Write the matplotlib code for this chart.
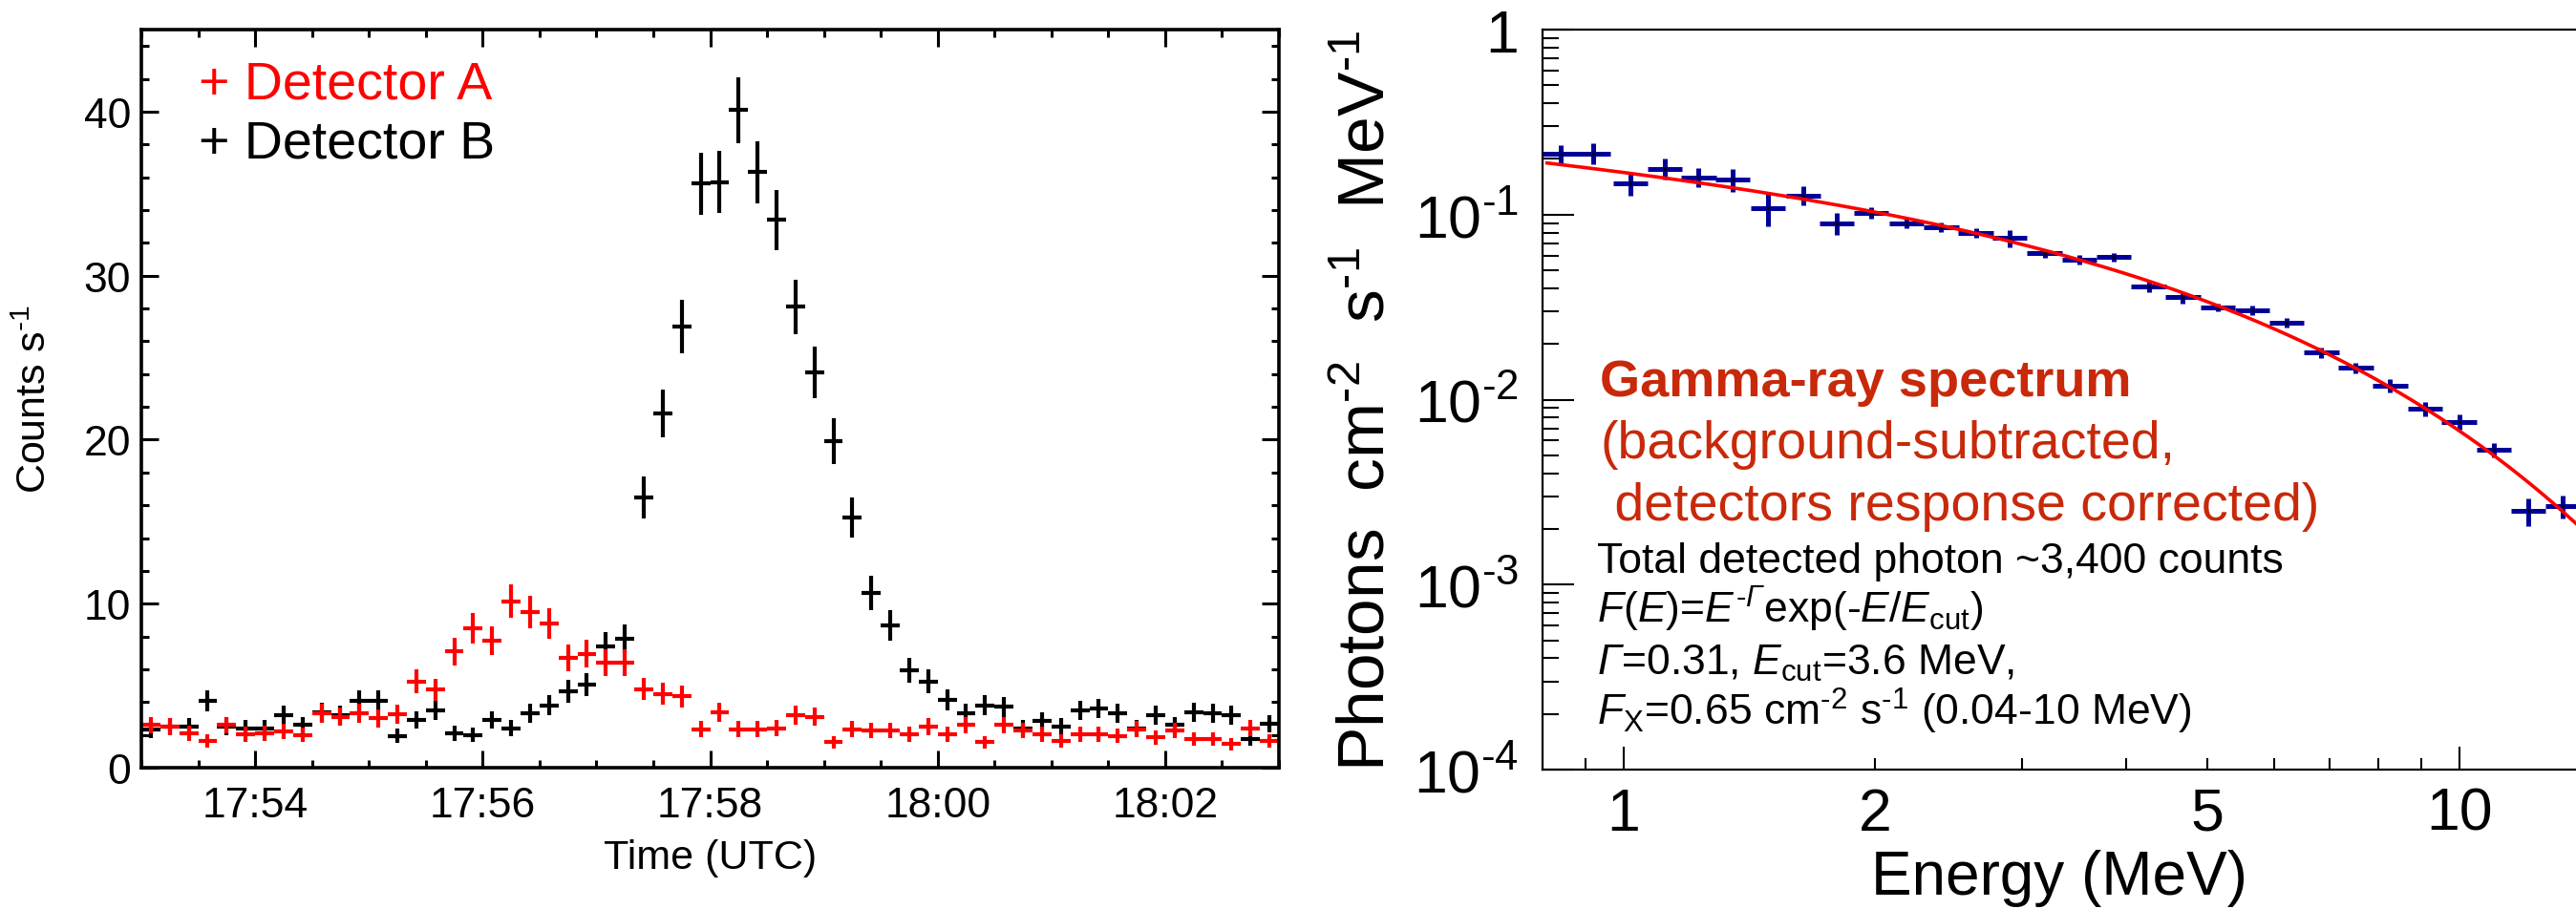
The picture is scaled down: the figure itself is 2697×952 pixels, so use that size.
import numpy as np
import pandas as pd
import matplotlib
matplotlib.use("Agg")
import matplotlib.pyplot as plt
import matplotlib.dates as mdates
from matplotlib.ticker import FixedLocator, FuncFormatter, NullFormatter, MultipleLocator, LogLocator

plt.rcParams['font.family'] = ['Liberation Sans', 'DejaVu Sans']
plt.rcParams['mathtext.fontset'] = 'custom'
plt.rcParams['mathtext.rm'] = 'Liberation Sans'
plt.rcParams['mathtext.it'] = 'Liberation Sans:italic'
plt.rcParams['mathtext.bf'] = 'Liberation Sans:bold'
# \mathsf used only for the italic capital Gamma (mathtext keeps Greek capitals upright in \mathit)
plt.rcParams['mathtext.sf'] = 'Liberation Sans:italic'

HY = '\u2010'  # short hyphen for superscripts

# ---- light curve: 10 s bins, 17:53 - 18:03 UTC ----
bin_times = pd.date_range("2000-01-01 17:53:05", periods=60, freq="10s")
rate_a = [2.6, 2.5, 2.1, 1.65, 2.6, 2.05, 2.1, 2.2, 2.0, 3.3,
          3.1, 3.3, 3.0, 3.25, 5.25, 4.75, 7.1, 8.5, 7.75, 10.15,
          9.5, 8.8, 6.7, 6.95, 6.4, 6.4, 4.8, 4.5, 4.35, 2.35,
          3.4, 2.35, 2.35, 2.4, 3.2, 3.1, 1.55, 2.35, 2.25, 2.25,
          2.05, 2.5, 2.05, 2.6, 1.55, 2.6, 2.25, 2.05, 1.65, 2.05,
          2.05, 1.95, 2.35, 1.85, 2.25, 1.75, 1.75, 1.45, 2.4, 1.65]
rate_b = [2.3, 2.5, 2.5, 4.05, 2.5, 2.4, 2.4, 3.2, 2.6, 3.4,
          3.2, 4.05, 4.05, 1.95, 2.9, 3.5, 2.1, 2.0, 2.9, 2.4,
          3.3, 3.8, 4.65, 5.05, 7.4, 7.85, 16.5, 21.6, 26.9, 35.6,
          35.7, 40.1, 36.3, 33.4, 28.1, 24.1, 19.9, 15.25, 10.65, 8.65,
          5.95, 5.25, 4.15, 3.3, 3.8, 3.7, 2.4, 2.85, 2.5, 3.5,
          3.6, 3.3, 2.4, 3.2, 2.6, 3.4, 3.3, 3.2, 1.75, 2.7]
bin_sec = 10.0

# ---- spectrum ----
energy = [0.84, 0.92, 1.02, 1.12, 1.23, 1.35, 1.49, 1.64, 1.80, 1.98,
          2.18, 2.40, 2.64, 2.90, 3.19, 3.51, 3.86, 4.25, 4.67, 5.14,
          5.65, 6.22, 6.84, 7.52, 8.27, 9.10, 10.0, 11.0, 12.1, 13.3]
flux = [0.214, 0.214, 0.148, 0.177, 0.159, 0.155, 0.108, 0.127, 0.090, 0.102,
        0.090, 0.0857, 0.0798, 0.0746, 0.0617, 0.0570, 0.0588, 0.0407, 0.0357, 0.0315,
        0.0303, 0.0260, 0.01795, 0.01485, 0.01194, 0.00888, 0.00759, 0.00535, 0.00249, 0.00265]
flux_relerr = [0.11, 0.13, 0.15, 0.13, 0.12, 0.14, 0.20, 0.12, 0.14, 0.07,
               0.06, 0.06, 0.06, 0.11, 0.05, 0.06, 0.05, 0.07, 0.07, 0.05,
               0.06, 0.06, 0.07, 0.07, 0.08, 0.09, 0.09, 0.09, 0.17, 0.14]
bin_factor = 1.049  # half log-width of energy bins

# fitted cutoff power law
fit_norm = 0.223
fit_gamma = 0.31
fit_ecut = 3.6

RED_TXT = '#C8290A'
BLUE = '#000099'

fig = plt.figure(figsize=(26.97, 9.53), dpi=100)

# ================= left panel =================
ax1 = fig.add_axes([148/2697, 1-805/953, (1339-148)/2697, (805-32)/953])
t = mdates.date2num(bin_times.to_pydatetime())
half = (bin_sec / 2) / 86400.0
ra = np.array(rate_a)
rb = np.array(rate_b)
# Poisson errors of 10-s bins
ax1.errorbar(t, rb, xerr=half, yerr=np.sqrt(rb*bin_sec)/bin_sec, fmt='none',
             ecolor='black', elinewidth=3.0, capsize=0)
ax1.errorbar(t, ra, xerr=half, yerr=np.sqrt(ra*bin_sec)/bin_sec, fmt='none',
             ecolor='#FF0000', elinewidth=3.0, capsize=0)

ax1.set_xlim(mdates.date2num(pd.Timestamp("2000-01-01 17:53:00").to_pydatetime()),
             mdates.date2num(pd.Timestamp("2000-01-01 18:03:00").to_pydatetime()))
ax1.set_ylim(0, 45)
ax1.xaxis.set_major_locator(mdates.MinuteLocator(byminute=range(0, 60, 2)))
ax1.xaxis.set_minor_locator(mdates.SecondLocator(bysecond=[0, 30]))
ax1.xaxis.set_major_formatter(mdates.DateFormatter('%H:%M'))
ax1.yaxis.set_major_locator(MultipleLocator(10))
ax1.yaxis.set_minor_locator(MultipleLocator(2))
ax1.tick_params(which='both', direction='in', top=True, right=True, width=2.2, labelsize=32)
ax1.tick_params(which='major', length=13)
ax1.tick_params(which='minor', length=6)
ax1.tick_params(axis='x', pad=14)
ax1.tick_params(axis='y', pad=8)
for s in ax1.spines.values():
    s.set_linewidth(2.6)
ax1.set_xlabel('Time (UTC)', fontsize=31, labelpad=10)
ax1.set_ylabel('Counts s$^{%s1}$' % HY, fontsize=31, labelpad=22)

ax1.text(0.05, 0.925, '+ Detector A', color='#FF0000', fontsize=40,
         transform=ax1.transAxes, va='center', ha='left')
ax1.text(0.05, 0.845, '+ Detector B', color='black', fontsize=40,
         transform=ax1.transAxes, va='center', ha='left')

# ================= right panel =================
ax2 = fig.add_axes([1615/2697, 1-807/953, (2697-1615)/2697, (807-32)/953])
e = np.array(energy)
f = np.array(flux)
xerr = [e - e/bin_factor, e*bin_factor - e]
ax2.errorbar(e, f, xerr=xerr, yerr=f*np.array(flux_relerr), fmt='none',
             ecolor=BLUE, elinewidth=3.6, capsize=0, zorder=2)
ax2.plot(e, f, ls='none', marker='o', ms=1.5, color='black', zorder=3)

e_fit = np.logspace(np.log10(0.81), np.log10(14.0), 300)
ax2.plot(e_fit, fit_norm * e_fit**(-fit_gamma) * np.exp(-e_fit/fit_ecut),
         color='#FF0000', lw=2.6, zorder=4)

ax2.set_xscale('log')
ax2.set_yscale('log')
ax2.set_xlim(0.8, 13.8)
ax2.set_ylim(1e-4, 1)
ax2.spines['right'].set_visible(False)
for s in ax2.spines.values():
    s.set_linewidth(1.6)

ax2.xaxis.set_major_locator(FixedLocator([1, 10]))
ax2.xaxis.set_minor_locator(FixedLocator([0.9, 2, 3, 4, 5, 6, 7, 8, 9]))
ax2.xaxis.set_major_formatter(FuncFormatter(lambda v, p: '%g' % v))
ax2.xaxis.set_minor_formatter(FuncFormatter(lambda v, p: '%g' % v if v in (2, 5) else ''))


def ylab(v, p):
    if abs(v - 1) < 1e-9:
        return '1'
    return '$10^{%s%d}$' % (HY, -int(round(np.log10(v))))


ax2.yaxis.set_major_locator(LogLocator(base=10, numticks=10))
ax2.yaxis.set_minor_locator(LogLocator(base=10, subs=np.arange(2, 10), numticks=20))
ax2.yaxis.set_major_formatter(FuncFormatter(ylab))
ax2.yaxis.set_minor_formatter(NullFormatter())
ax2.tick_params(which='both', direction='in', top=False, right=False, width=1.5)
ax2.tick_params(axis='x', which='major', length=17, labelsize=45, pad=12)
ax2.tick_params(axis='x', which='minor', length=9, labelsize=45, pad=12)
ax2.tick_params(axis='y', which='major', length=24, labelsize=45, pad=18)
ax2.tick_params(axis='y', which='minor', length=12)
ax2.set_xlabel('Energy (MeV)', fontsize=46, labelpad=5)
ax2.set_ylabel('Photons  cm$^{%s2}$  s$^{%s1}$  MeV$^{%s1}$' % (HY, HY, HY),
               fontsize=50, labelpad=12)

ax2.text(0.0555, 0.506, 'Gamma-ray spectrum', color=RED_TXT, fontsize=39,
         fontweight='bold', transform=ax2.transAxes, va='baseline')
ax2.text(0.0555, 0.422, '(background-subtracted,', color=RED_TXT, fontsize=40,
         transform=ax2.transAxes, va='baseline')
ax2.text(0.0555, 0.338, ' detectors response corrected)', color=RED_TXT, fontsize=40,
         transform=ax2.transAxes, va='baseline')
ax2.text(0.0527, 0.267, 'Total detected photon ~3,400 counts', fontsize=32,
         transform=ax2.transAxes, va='baseline')
ax2.text(0.0527, 0.199,
         r'$\mathit{F}$($\mathit{E}$)=$\mathit{E}^{%s\mathsf{\Gamma}}$exp(-$\mathit{E}$/$\mathit{E}_{\rm cut}$)' % HY,
         fontsize=32, transform=ax2.transAxes, va='baseline')
ax2.text(0.0527, 0.129,
         r'$\mathsf{\Gamma}$=0.31, $\mathit{E}_{\rm cut}$=3.6 MeV,',
         fontsize=32, transform=ax2.transAxes, va='baseline')
ax2.text(0.0527, 0.061,
         r'$\mathit{F}_{\rm X}$=0.65 cm$^{%s2}$ s$^{%s1}$ (0.04-10 MeV)' % (HY, HY),
         fontsize=32, transform=ax2.transAxes, va='baseline')

fig.savefig('out.png', dpi=100)
